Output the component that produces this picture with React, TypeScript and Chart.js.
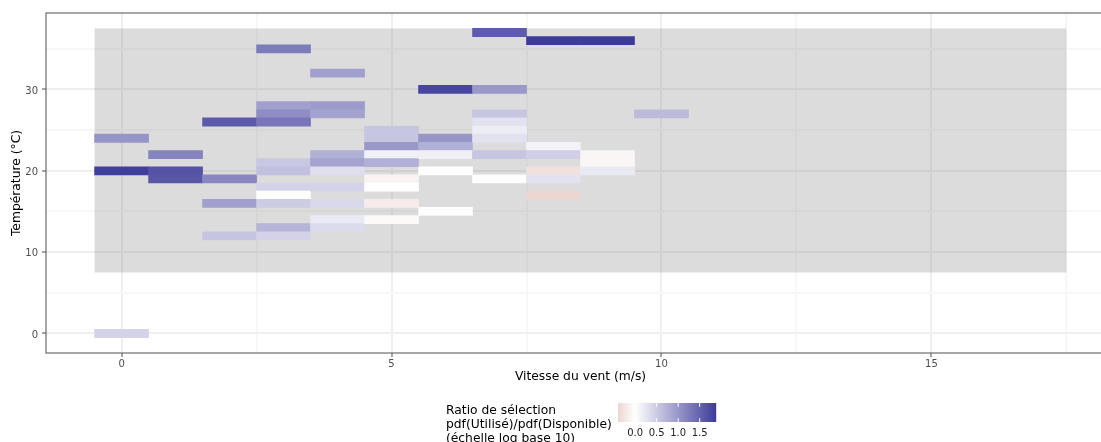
import { useEffect, useRef } from "react";
import { Chart, registerables } from "chart.js";

Chart.register(...registerables);

// One tile per (wind speed, temperature) cell; the value is log10 of the selection ratio
const windSpeed = [
  0, 0, 0,
  1, 1, 1,
  2, 2, 2, 2,
  3, 3, 3, 3, 3, 3, 3, 3, 3, 3, 3,
  4, 4, 4, 4, 4, 4, 4, 4, 4, 4,
  5, 5, 5, 5, 5, 5, 5, 5, 5,
  6, 6, 6, 6, 6, 6,
  7, 7, 7, 7, 7, 7, 7, 7,
  8, 8, 8, 8, 8, 8,
  9, 9, 9, 9,
  10,
];

const temperature = [
  24, 20, 0,
  22, 20, 19,
  26, 19, 16, 12,
  35, 28, 27, 26, 21, 20, 18, 17, 16, 13, 12,
  32, 28, 27, 22, 21, 20, 18, 16, 14, 13,
  25, 24, 23, 22, 21, 19, 18, 16, 14,
  30, 24, 23, 22, 20, 15,
  37, 30, 27, 26, 25, 24, 22, 19,
  36, 23, 22, 20, 19, 17,
  36, 22, 21, 20,
  27,
];

const selectionRatio = [
  1.02, 1.85, 0.43,
  1.18, 1.65, 1.62,
  1.58, 1.15, 0.92, 0.56,
  1.26, 0.92, 1.09, 1.31, 0.53, 0.6, 0.43, 0.02, 0.49, 0.71, 0.43,
  0.92, 0.96, 0.88, 0.76, 0.88, 0.32, 0.43, 0.36, 0.2, 0.35,
  0.55, 0.55, 0.99, 0.14, 0.76, -0.12, 0.0, -0.18, -0.05,
  1.77, 1.01, 0.76, 0.14, 0.01, -0.02,
  1.56, 0.99, 0.55, 0.29, 0.17, 0.29, 0.55, 0.01,
  1.88, 0.12, 0.46, -0.29, 0.28, -0.4,
  1.88, -0.09, -0.09, 0.21,
  0.65,
];

// Range of conditions available in the study area (shaded block)
const availableWind = [-0.5, 17.5];
const availableTemp = [7.5, 37.5];

const xTickLabels = [0, 5, 10, 15];
const yTickLabels = [0, 10, 20, 30];
const legendBreaks = [0, 0.5, 1, 1.5];

const legendTitle = [
  "Ratio de sélection",
  "pdf(Utilisé)/pdf(Disponible)",
  "(échelle log base 10)",
];

const FONT = "'DejaVu Sans', sans-serif";
const LOW_COLOUR = [160, 60, 45];
const MID_COLOUR = [255, 255, 255];
const HIGH_COLOUR = [61, 59, 153];

// Diverging fill: white at 0, scaled by the largest absolute value
function ratioColour(v: number, maxAbs: number): string {
  const t = Math.min(1, Math.abs(v) / maxAbs);
  const end = v >= 0 ? HIGH_COLOUR : LOW_COLOUR;
  const c = MID_COLOUR.map((m, i) => Math.round(m + (end[i] - m) * t));
  return `rgb(${c[0]}, ${c[1]}, ${c[2]})`;
}

export default function App() {
  const canvasRef = useRef<HTMLCanvasElement>(null);

  useEffect(() => {
    const canvas = canvasRef.current;
    if (!canvas) return;

    const maxAbs = Math.max(...selectionRatio.map((v) => Math.abs(v)));
    const legendMin = Math.min(...selectionRatio);
    const legendMax = Math.max(...selectionRatio);
    const tiles = windSpeed.map((w, i) => ({ x: [w - 0.5, w + 0.5], y: temperature[i] }));
    const fills = selectionRatio.map((v) => ratioColour(v, maxAbs));

    const availableArea = {
      id: "availableArea",
      beforeDatasetsDraw(chart: any) {
        const { ctx, scales } = chart;
        const x0 = scales.x.getPixelForValue(availableWind[0]);
        const x1 = scales.x.getPixelForValue(availableWind[1]);
        const y0 = scales.y.getPixelForValue(availableTemp[1]);
        const y1 = scales.y.getPixelForValue(availableTemp[0]);
        ctx.save();
        ctx.fillStyle = "rgba(127, 127, 127, 0.27)";
        ctx.fillRect(x0, y0, x1 - x0, y1 - y0);
        ctx.restore();
      },
    };

    const panelFrame = {
      id: "panelFrame",
      afterDatasetsDraw(chart: any) {
        const { ctx, chartArea } = chart;
        ctx.save();
        ctx.strokeStyle = "#5a5a5a";
        ctx.lineWidth = 1.07;
        ctx.strokeRect(
          chartArea.left,
          chartArea.top,
          chartArea.right - chartArea.left,
          chartArea.bottom - chartArea.top
        );
        ctx.restore();
      },
    };

    const colourLegend = {
      id: "colourLegend",
      afterDraw(chart: any) {
        const { ctx } = chart;
        const titleX = 446;
        const barLeft = 618;
        const barWidth = 98;
        const barTop = 403;
        const barHeight = 19;
        const toPx = (v: number) =>
          barLeft + ((v - legendMin) / (legendMax - legendMin)) * barWidth;

        ctx.save();
        ctx.fillStyle = "#000000";
        ctx.font = `12.3px ${FONT}`;
        ctx.textAlign = "left";
        ctx.textBaseline = "alphabetic";
        legendTitle.forEach((line, i) => {
          ctx.fillText(line, titleX, 414 + i * 13.8);
        });

        for (let i = 0; i < barWidth; i++) {
          const v = legendMin + ((i + 0.5) / barWidth) * (legendMax - legendMin);
          ctx.fillStyle = ratioColour(v, maxAbs);
          ctx.fillRect(barLeft + i, barTop, 1.2, barHeight);
        }

        ctx.strokeStyle = "#ffffff";
        ctx.lineWidth = 1;
        const tick = barHeight / 5;
        legendBreaks.forEach((b) => {
          const px = toPx(b);
          ctx.beginPath();
          ctx.moveTo(px, barTop);
          ctx.lineTo(px, barTop + tick);
          ctx.moveTo(px, barTop + barHeight - tick);
          ctx.lineTo(px, barTop + barHeight);
          ctx.stroke();
        });

        ctx.fillStyle = "#222222";
        ctx.font = `10px ${FONT}`;
        ctx.textAlign = "center";
        ctx.textBaseline = "middle";
        legendBreaks.forEach((b) => {
          ctx.fillText(b.toFixed(1), toPx(b), 433.5);
        });
        ctx.restore();
      },
    };

    const gridColour = (major: boolean) => (major ? "#efefef" : "#f7f7f7");

    const chart = new Chart(canvas, {
      type: "bar",
      data: {
        datasets: [
          {
            data: tiles as any,
            backgroundColor: fills,
            borderWidth: 0,
            borderSkipped: false,
            barPercentage: 1,
            categoryPercentage: 1,
          },
        ],
      },
      options: {
        indexAxis: "y",
        responsive: false,
        animation: false,
        layout: { padding: { top: 13, left: 0, right: 5, bottom: 55 } },
        plugins: {
          legend: { display: false },
          tooltip: { enabled: false },
        },
        scales: {
          x: {
            type: "linear",
            min: -1.4,
            max: 18.4,
            offset: false,
            afterFit(scale: any) {
              scale.height = 34;
            },
            border: { display: false },
            grid: {
              offset: false,
              lineWidth: 2,
              color: (c: any) => gridColour(c.tick && c.tick.value % 5 === 0),
              tickColor: (c: any) =>
                c.tick && c.tick.value % 5 === 0 ? "#4d4d4d" : "rgba(0,0,0,0)",
              tickWidth: 1,
              tickLength: 4,
            },
            ticks: {
              stepSize: 2.5,
              includeBounds: false,
              autoSkip: false,
              maxRotation: 0,
              padding: 1,
              color: "#4d4d4d",
              font: { family: FONT, size: 10 },
              callback: (v: any) => (xTickLabels.includes(Number(v)) ? String(v) : ""),
            },
            title: {
              display: true,
              text: "Vitesse du vent (m/s)",
              color: "#000000",
              font: { family: FONT, size: 12.3, lineHeight: 1.2 },
              padding: { top: 0, bottom: 3 },
            },
          },
          y: {
            type: "linear",
            min: -2.4,
            max: 39.4,
            offset: false,
            afterFit(scale: any) {
              scale.width = 46;
            },
            border: { display: false },
            grid: {
              offset: false,
              lineWidth: 2,
              color: (c: any) => gridColour(c.tick && c.tick.value % 10 === 0),
              tickColor: (c: any) =>
                c.tick && c.tick.value % 10 === 0 ? "#4d4d4d" : "rgba(0,0,0,0)",
              tickWidth: 1,
              tickLength: 4,
            },
            ticks: {
              stepSize: 5,
              includeBounds: false,
              autoSkip: false,
              padding: 4,
              labelOffset: 1.5,
              color: "#4d4d4d",
              font: { family: FONT, size: 10 },
              callback: (v: any) => (yTickLabels.includes(Number(v)) ? String(v) : ""),
            },
            title: {
              display: true,
              text: "Température (°C)",
              color: "#000000",
              font: { family: FONT, size: 12.3, lineHeight: 1.2 },
              padding: { top: 9.6, bottom: 0 },
            },
          },
        },
      } as any,
      plugins: [availableArea, panelFrame, colourLegend],
    });

    return () => chart.destroy();
  }, []);

  return (
    <div
      style={{
        position: "absolute",
        left: 0,
        top: 0,
        width: 1101,
        height: 442,
        overflow: "hidden",
        background: "#ffffff",
      }}
    >
      <canvas ref={canvasRef} width={1120} height={442} style={{ display: "block" }} />
    </div>
  );
}
